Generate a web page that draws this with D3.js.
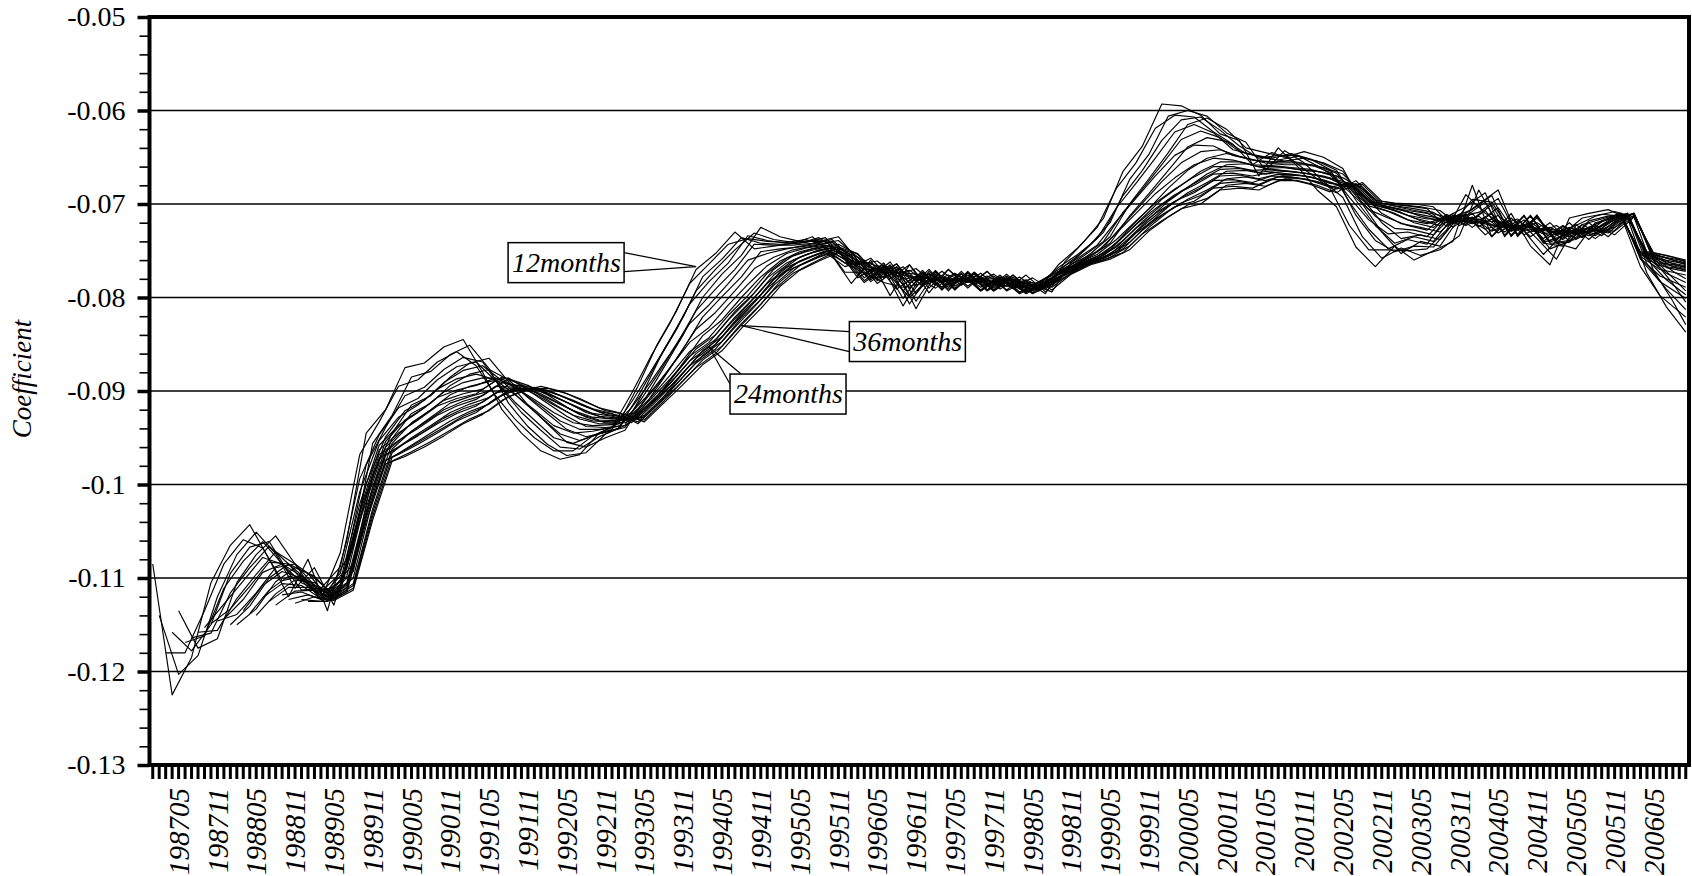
<!DOCTYPE html>
<html>
<head>
<meta charset="utf-8">
<title>Coefficient</title>
<script src="https://cdn.jsdelivr.net/npm/d3@7/dist/d3.min.js"></script>
<style>
  html, body { margin: 0; padding: 0; background: #fff; }
  svg { display: block; }
  text { font-family: "Liberation Serif", "Times New Roman", serif; fill: #000; }
</style>
</head>
<body>
<div id="chart"></div>
<script>
// x axis labels (every sixth month)
const monthLabels = ['198705','198711','198805','198811','198905','198911','199005','199011','199105','199111',
  '199205','199211','199305','199311','199405','199411','199505','199511','199605','199611','199705','199711',
  '199805','199811','199905','199911','200005','200011','200105','200111','200205','200211','200305','200311',
  '200405','200411','200505','200511','200605'];

const yTicks = [-0.05, -0.06, -0.07, -0.08, -0.09, -0.1, -0.11, -0.12, -0.13];
const yTickLabels = ['-0.05', '-0.06', '-0.07', '-0.08', '-0.09', '-0.1', '-0.11', '-0.12', '-0.13'];

// rolling-window coefficients, one reading every third month from the window's first month
const w12 = [-.1085,-.1225,-.1185,-.1105,-.1065,-.1043,-.108,-.112,-.108,-.1135,-.106,-.0945,-.092,-.0875,-.087,-.0853,-.0845,-.088,-.092,-.0945,-.0964,-.0973,-.0968,-.0945,-.0935,-.0895,-.085,-.0814,-.077,-.0753,-.073,-.0748,-.0745,-.0742,-.0735,-.0755,-.0785,-.076,-.0798,-.0765,-.0795,-.077,-.079,-.0772,-.0793,-.0782,-.0796,-.0762,-.074,-.0715,-.0665,-.0638,-.0593,-.0595,-.0605,-.0625,-.0632,-.067,-.064,-.066,-.0685,-.0703,-.0746,-.0767,-.0745,-.076,-.075,-.074,-.068,-.0735,-.071,-.0745,-.0765,-.0715,-.071,-.0706,-.0715,-.0774,-.081,-.0837];
const w13 = [-.114,-.1203,-.1183,-.112,-.1075,-.1051,-.1074,-.1111,-.1089,-.1129,-.1066,-.0956,-.0926,-.0885,-.0879,-.0861,-.0851,-.0876,-.0913,-.0938,-.0957,-.0969,-.0966,-.0946,-.0937,-.0899,-.0856,-.0821,-.0778,-.0759,-.0736,-.0742,-.0743,-.0742,-.0736,-.075,-.0779,-.0766,-.0791,-.0777,-.079,-.0775,-.0786,-.0777,-.079,-.0786,-.0794,-.0763,-.0743,-.072,-.0674,-.0647,-.0606,-.06,-.0606,-.0624,-.0634,-.0664,-.0643,-.0656,-.0676,-.0693,-.0735,-.0758,-.0747,-.0755,-.0749,-.0734,-.0685,-.0723,-.0716,-.0737,-.0759,-.0723,-.0713,-.0708,-.0714,-.0771,-.0804,-.0829];
const w14 = [-.118,-.118,-.1135,-.1085,-.1059,-.1068,-.1103,-.1098,-.1123,-.1073,-.0968,-.0933,-.0895,-.0888,-.0869,-.0858,-.0873,-.0905,-.093,-.095,-.0964,-.0964,-.0948,-.0939,-.0903,-.0863,-.0827,-.0785,-.0764,-.0743,-.0737,-.074,-.0741,-.0738,-.0745,-.0773,-.0773,-.0784,-.0789,-.0785,-.0779,-.0783,-.0783,-.0787,-.0789,-.0791,-.0765,-.0747,-.0725,-.0683,-.0656,-.0619,-.0605,-.0607,-.0623,-.0636,-.0658,-.0645,-.0652,-.0668,-.0683,-.0723,-.0749,-.0749,-.075,-.0748,-.0728,-.069,-.071,-.0723,-.0729,-.0754,-.0732,-.0715,-.0711,-.0713,-.0767,-.0798,-.0821];
const w15 = [-.1158,-.1178,-.115,-.1095,-.1067,-.1061,-.1094,-.1106,-.1116,-.1079,-.0979,-.0939,-.0905,-.0896,-.0877,-.0864,-.0869,-.0898,-.0923,-.0942,-.096,-.0962,-.0949,-.094,-.0906,-.0869,-.0834,-.0793,-.077,-.0749,-.0731,-.0738,-.0741,-.0739,-.074,-.0766,-.0779,-.0777,-.08,-.078,-.0784,-.0779,-.0788,-.0783,-.0793,-.0789,-.0766,-.075,-.073,-.0691,-.0664,-.0632,-.061,-.0607,-.0621,-.0638,-.0651,-.0648,-.0648,-.0659,-.0672,-.0712,-.0739,-.0751,-.0745,-.0746,-.0721,-.0695,-.0698,-.0729,-.072,-.0748,-.074,-.0718,-.0713,-.0711,-.0764,-.0791,-.0813];
const w16 = [-.1135,-.1175,-.1165,-.1105,-.1075,-.1055,-.1085,-.1115,-.111,-.1085,-.099,-.0945,-.0915,-.0905,-.0885,-.087,-.0865,-.089,-.0915,-.0935,-.0955,-.096,-.095,-.0942,-.091,-.0875,-.084,-.08,-.0775,-.0755,-.0725,-.0735,-.074,-.074,-.0735,-.076,-.0785,-.077,-.0812,-.0775,-.0788,-.0775,-.0793,-.078,-.0796,-.0786,-.0767,-.0753,-.0735,-.07,-.0673,-.0645,-.0615,-.0608,-.062,-.064,-.0645,-.065,-.0644,-.065,-.0662,-.07,-.073,-.0753,-.074,-.0745,-.0715,-.07,-.0685,-.0735,-.0712,-.0742,-.0748,-.072,-.0715,-.071,-.076,-.0785,-.0805];
const w17 = [-.1169,-.1162,-.1111,-.1082,-.1061,-.1085,-.1113,-.1111,-.1088,-.0994,-.0947,-.0918,-.0908,-.0888,-.0874,-.0869,-.0889,-.0912,-.0931,-.095,-.0956,-.0948,-.0941,-.0912,-.0879,-.0845,-.0807,-.0783,-.0763,-.0734,-.0739,-.0742,-.0741,-.0736,-.0759,-.0784,-.0769,-.0809,-.0774,-.0789,-.0775,-.0793,-.0779,-.0796,-.0786,-.0768,-.0754,-.0737,-.0704,-.0678,-.0651,-.0623,-.0615,-.0624,-.0642,-.0647,-.0651,-.0646,-.0652,-.0663,-.0698,-.0727,-.0748,-.0738,-.0743,-.0714,-.0703,-.0688,-.0735,-.0712,-.0742,-.0745,-.0722,-.0716,-.071,-.0759,-.0783,-.0801];
const w18 = [-.1164,-.1159,-.1116,-.1089,-.1066,-.1085,-.111,-.1113,-.109,-.0999,-.0949,-.0921,-.091,-.0891,-.0878,-.0873,-.0889,-.091,-.0928,-.0946,-.0953,-.0946,-.094,-.0914,-.0883,-.085,-.0814,-.0791,-.077,-.0743,-.0744,-.0744,-.0742,-.0738,-.0758,-.0783,-.0768,-.0807,-.0774,-.0789,-.0774,-.0793,-.0779,-.0796,-.0785,-.0769,-.0755,-.074,-.0709,-.0684,-.0658,-.0631,-.0622,-.0629,-.0644,-.0649,-.0653,-.0649,-.0654,-.0664,-.0696,-.0723,-.0742,-.0735,-.074,-.0714,-.0706,-.0691,-.0735,-.0712,-.0742,-.0741,-.0725,-.0716,-.071,-.0759,-.0781,-.0797];
const w19 = [-.1158,-.1156,-.1122,-.1096,-.1072,-.1085,-.1108,-.1114,-.1093,-.1003,-.0951,-.0924,-.0913,-.0894,-.0882,-.0877,-.0888,-.0907,-.0924,-.0941,-.0949,-.0944,-.0939,-.0916,-.0886,-.0855,-.0821,-.0799,-.0778,-.0751,-.0748,-.0746,-.0743,-.0739,-.0757,-.0782,-.0767,-.0804,-.0773,-.079,-.0774,-.0793,-.0778,-.0795,-.0785,-.0769,-.0756,-.0742,-.0713,-.0689,-.0664,-.0639,-.0629,-.0633,-.0646,-.0651,-.0654,-.0651,-.0656,-.0665,-.0694,-.072,-.0737,-.0733,-.0738,-.0713,-.0709,-.0694,-.0734,-.0712,-.0741,-.0738,-.0727,-.0717,-.071,-.0758,-.0779,-.0793];
const w20 = [-.1153,-.1128,-.1103,-.1078,-.1085,-.1105,-.1115,-.1095,-.1008,-.0953,-.0928,-.0915,-.0898,-.0887,-.0882,-.0888,-.0904,-.092,-.0937,-.0945,-.0943,-.0939,-.0918,-.089,-.086,-.0828,-.0808,-.0785,-.076,-.0753,-.0748,-.0744,-.074,-.0756,-.0782,-.0766,-.0801,-.0773,-.0791,-.0774,-.0793,-.0778,-.0795,-.0784,-.077,-.0758,-.0744,-.0718,-.0694,-.067,-.0648,-.0637,-.0638,-.0648,-.0653,-.0655,-.0654,-.0658,-.0666,-.0693,-.0717,-.0732,-.073,-.0735,-.0713,-.0713,-.0698,-.0734,-.0713,-.0741,-.0734,-.0729,-.0718,-.071,-.0758,-.0777,-.0789];
const w21 = [-.1149,-.1133,-.1109,-.1083,-.1085,-.1103,-.1116,-.1098,-.1012,-.0954,-.0931,-.0918,-.0901,-.0891,-.0886,-.0887,-.0901,-.0916,-.0932,-.0941,-.0941,-.0938,-.0919,-.0894,-.0865,-.0834,-.0816,-.0793,-.0769,-.0757,-.0749,-.0745,-.0741,-.0755,-.0781,-.0765,-.0798,-.0772,-.0791,-.0773,-.0792,-.0777,-.0795,-.0784,-.0771,-.0759,-.0746,-.0722,-.0699,-.0676,-.0656,-.0644,-.0642,-.0649,-.0654,-.0656,-.0656,-.0659,-.0667,-.0691,-.0713,-.0726,-.0728,-.0733,-.0712,-.0716,-.0701,-.0734,-.0713,-.0741,-.0731,-.0731,-.0718,-.071,-.0757,-.0774,-.0784];
const w22 = [-.1146,-.1139,-.1116,-.1089,-.1085,-.11,-.1118,-.11,-.1016,-.0956,-.0934,-.092,-.0904,-.0895,-.089,-.0886,-.0899,-.0913,-.0927,-.0938,-.0939,-.0937,-.0921,-.0898,-.087,-.0841,-.0824,-.08,-.0778,-.0761,-.0751,-.0746,-.0743,-.0754,-.078,-.0764,-.0796,-.0771,-.0792,-.0773,-.0792,-.0776,-.0795,-.0783,-.0772,-.076,-.0749,-.0726,-.0705,-.0683,-.0664,-.0651,-.0646,-.0651,-.0656,-.0658,-.0658,-.0661,-.0668,-.0689,-.071,-.0721,-.0725,-.073,-.0711,-.0719,-.0704,-.0734,-.0713,-.0741,-.0727,-.0734,-.0719,-.071,-.0756,-.0772,-.078];
const w23 = [-.1144,-.1123,-.1094,-.1085,-.1098,-.1119,-.1103,-.1021,-.0958,-.0937,-.0923,-.0907,-.0899,-.0894,-.0886,-.0896,-.0909,-.0923,-.0934,-.0937,-.0936,-.0923,-.0901,-.0875,-.0848,-.0832,-.0808,-.0786,-.0766,-.0753,-.0747,-.0744,-.0753,-.0779,-.0763,-.0793,-.0771,-.0792,-.0772,-.0792,-.0776,-.0794,-.0783,-.0772,-.0761,-.0751,-.0731,-.071,-.0689,-.0672,-.0658,-.0651,-.0653,-.0658,-.0659,-.0661,-.0663,-.0669,-.0687,-.0706,-.0715,-.0723,-.0728,-.0711,-.0722,-.0707,-.0733,-.0713,-.074,-.0724,-.0736,-.0719,-.071,-.0756,-.077,-.0776];
const w24 = [-.115,-.113,-.11,-.1085,-.1095,-.112,-.1105,-.1025,-.096,-.094,-.0925,-.091,-.0903,-.0898,-.0885,-.0893,-.0905,-.0918,-.093,-.0935,-.0935,-.0925,-.0905,-.088,-.0855,-.084,-.0815,-.0795,-.077,-.0755,-.0748,-.0745,-.0752,-.0778,-.0762,-.079,-.077,-.0793,-.0772,-.0792,-.0775,-.0794,-.0782,-.0773,-.0762,-.0753,-.0735,-.0715,-.0695,-.068,-.0665,-.0655,-.0655,-.066,-.066,-.0663,-.0665,-.067,-.0685,-.0703,-.071,-.072,-.0725,-.071,-.0725,-.071,-.0733,-.0713,-.074,-.072,-.0738,-.072,-.071,-.0755,-.0768,-.0772];
const w25 = [-.115,-.1133,-.1104,-.1089,-.1098,-.112,-.1106,-.1026,-.0962,-.0943,-.0928,-.0913,-.0906,-.09,-.0887,-.0894,-.0904,-.0917,-.0928,-.0934,-.0934,-.0926,-.0906,-.0881,-.0857,-.0842,-.0817,-.0797,-.0772,-.0757,-.0749,-.0746,-.0753,-.0776,-.0764,-.0788,-.0772,-.0791,-.0773,-.079,-.0776,-.0793,-.0783,-.0773,-.0762,-.0754,-.0736,-.0716,-.0697,-.0682,-.0668,-.0658,-.0657,-.0662,-.0661,-.0664,-.0666,-.0672,-.0684,-.0702,-.0709,-.0718,-.0723,-.0711,-.0724,-.0712,-.0732,-.0715,-.0738,-.0722,-.0737,-.0721,-.071,-.0755,-.0767,-.0771];
const w26 = [-.1135,-.1108,-.1093,-.11,-.1121,-.1107,-.1028,-.0963,-.0945,-.0931,-.0916,-.0908,-.0903,-.0889,-.0894,-.0903,-.0915,-.0926,-.0932,-.0933,-.0927,-.0907,-.0883,-.0858,-.0843,-.0819,-.0798,-.0774,-.0758,-.0751,-.0746,-.0755,-.0775,-.0765,-.0786,-.0773,-.0789,-.0775,-.0789,-.0778,-.0791,-.0784,-.0773,-.0763,-.0754,-.0738,-.0718,-.0699,-.0684,-.0671,-.066,-.066,-.0664,-.0663,-.0665,-.0668,-.0673,-.0683,-.0702,-.0708,-.0717,-.0721,-.0713,-.0723,-.0714,-.073,-.0717,-.0737,-.0723,-.0735,-.0723,-.0711,-.0754,-.0766,-.077];
const w27 = [-.1138,-.1113,-.1098,-.1103,-.1121,-.1108,-.1029,-.0965,-.0948,-.0934,-.092,-.0911,-.0905,-.0891,-.0895,-.0903,-.0914,-.0925,-.0931,-.0932,-.0928,-.0908,-.0884,-.086,-.0845,-.0821,-.08,-.0776,-.076,-.0752,-.0747,-.0756,-.0773,-.0767,-.0784,-.0775,-.0787,-.0776,-.0787,-.0779,-.079,-.0785,-.0774,-.0763,-.0755,-.0739,-.0719,-.0701,-.0686,-.0674,-.0663,-.0662,-.0666,-.0664,-.0666,-.0669,-.0675,-.0683,-.0701,-.0707,-.0715,-.072,-.0714,-.0721,-.0716,-.0729,-.0719,-.0735,-.0725,-.0734,-.0724,-.0711,-.0754,-.0765,-.0769];
const w28 = [-.114,-.1117,-.1102,-.1105,-.1122,-.1108,-.103,-.0966,-.095,-.0937,-.0923,-.0914,-.0907,-.0893,-.0895,-.0902,-.0912,-.0923,-.0929,-.0931,-.0928,-.0908,-.0885,-.0862,-.0847,-.0822,-.0802,-.0777,-.0761,-.0753,-.0748,-.0757,-.0771,-.0768,-.0782,-.0777,-.0785,-.0777,-.0785,-.0781,-.0788,-.0786,-.0774,-.0763,-.0755,-.0741,-.0721,-.0703,-.0688,-.0677,-.0665,-.0664,-.0668,-.0665,-.0667,-.067,-.0676,-.0682,-.0701,-.0706,-.0713,-.0718,-.0715,-.072,-.0718,-.0727,-.072,-.0733,-.0727,-.0732,-.0725,-.0712,-.0754,-.0764,-.0768];
const w29 = [-.1121,-.1106,-.1108,-.1122,-.1109,-.1031,-.0968,-.0953,-.094,-.0926,-.0916,-.0909,-.0895,-.0896,-.0901,-.0911,-.0921,-.0928,-.093,-.0929,-.0909,-.0887,-.0863,-.0848,-.0824,-.0803,-.0779,-.0763,-.0754,-.0748,-.0759,-.077,-.077,-.078,-.0778,-.0783,-.0779,-.0784,-.0782,-.0787,-.0787,-.0774,-.0764,-.0756,-.0742,-.0722,-.0705,-.069,-.068,-.0668,-.0667,-.067,-.0666,-.0668,-.0671,-.0678,-.0681,-.07,-.0705,-.0712,-.0716,-.0716,-.0719,-.072,-.0726,-.0722,-.0732,-.0728,-.0731,-.0726,-.0712,-.0753,-.0763,-.0767];
const w30 = [-.1125,-.111,-.111,-.1123,-.111,-.1033,-.0969,-.0955,-.0943,-.0929,-.0919,-.0912,-.0898,-.0897,-.09,-.0909,-.0919,-.0927,-.0929,-.093,-.091,-.0888,-.0865,-.085,-.0826,-.0805,-.0781,-.0765,-.0756,-.0749,-.076,-.0768,-.0771,-.0778,-.078,-.0782,-.078,-.0782,-.0784,-.0785,-.0788,-.0774,-.0764,-.0757,-.0744,-.0724,-.0707,-.0693,-.0683,-.067,-.0669,-.0673,-.0668,-.0669,-.0673,-.0679,-.068,-.07,-.0705,-.071,-.0714,-.0718,-.0718,-.0723,-.0724,-.0724,-.073,-.073,-.0729,-.0728,-.0713,-.0753,-.0762,-.0766];
const w31 = [-.1129,-.1114,-.1113,-.1123,-.1111,-.1034,-.0971,-.0958,-.0945,-.0932,-.0922,-.0914,-.09,-.0897,-.0899,-.0908,-.0917,-.0925,-.0928,-.0931,-.0911,-.0889,-.0867,-.0852,-.0828,-.0807,-.0783,-.0766,-.0757,-.075,-.0761,-.0766,-.0773,-.0775,-.0782,-.078,-.0781,-.078,-.0785,-.0784,-.0789,-.0774,-.0764,-.0757,-.0745,-.0725,-.0708,-.0695,-.0685,-.0673,-.0671,-.0675,-.0669,-.067,-.0674,-.0681,-.0679,-.0699,-.0704,-.0708,-.0712,-.0719,-.0716,-.0725,-.0723,-.0726,-.0728,-.0732,-.0728,-.0729,-.0713,-.0753,-.076,-.0765];
const w32 = [-.1118,-.1115,-.1123,-.1112,-.1035,-.0972,-.096,-.0948,-.0935,-.0924,-.0916,-.0902,-.0898,-.0898,-.0906,-.0915,-.0924,-.0927,-.0932,-.0912,-.0891,-.0868,-.0853,-.083,-.0808,-.0785,-.0768,-.0758,-.075,-.0763,-.0765,-.0774,-.0773,-.0783,-.0778,-.0783,-.0779,-.0786,-.0782,-.079,-.0774,-.0765,-.0758,-.0746,-.0726,-.071,-.0697,-.0688,-.0675,-.0674,-.0677,-.067,-.0671,-.0675,-.0682,-.0678,-.0698,-.0703,-.0707,-.071,-.072,-.0715,-.0727,-.0721,-.0728,-.0727,-.0733,-.0726,-.073,-.0713,-.0752,-.0759,-.0764];
const w33 = [-.1123,-.1118,-.1124,-.1113,-.1036,-.0974,-.0963,-.0951,-.0939,-.0927,-.0918,-.0904,-.0898,-.0898,-.0905,-.0914,-.0922,-.0926,-.0933,-.0913,-.0892,-.087,-.0855,-.0832,-.081,-.0787,-.0769,-.0759,-.0751,-.0764,-.0763,-.0776,-.0771,-.0785,-.0776,-.0784,-.0777,-.0788,-.0781,-.0791,-.0775,-.0765,-.0758,-.0748,-.0728,-.0712,-.0699,-.0691,-.0678,-.0676,-.0679,-.0671,-.0672,-.0676,-.0684,-.0678,-.0698,-.0702,-.0705,-.0709,-.0721,-.0714,-.0729,-.072,-.073,-.0725,-.0735,-.0725,-.0731,-.0714,-.0752,-.0758,-.0763];
const w34 = [-.1127,-.112,-.1124,-.1113,-.1038,-.0975,-.0965,-.0954,-.0942,-.093,-.0921,-.0906,-.0899,-.0897,-.0903,-.0912,-.0921,-.0925,-.0933,-.0913,-.0893,-.0872,-.0857,-.0833,-.0812,-.0788,-.0771,-.0761,-.0752,-.0765,-.0761,-.0777,-.0769,-.0787,-.0774,-.0785,-.0775,-.0789,-.0779,-.0792,-.0775,-.0765,-.0759,-.0749,-.0729,-.0714,-.0701,-.0694,-.068,-.0678,-.0681,-.0673,-.0673,-.0678,-.0685,-.0677,-.0697,-.0701,-.0703,-.0707,-.0723,-.0713,-.0731,-.0718,-.0731,-.0723,-.0737,-.0723,-.0733,-.0714,-.0752,-.0757,-.0762];
const w35 = [-.1123,-.1125,-.1114,-.1039,-.0977,-.0968,-.0957,-.0945,-.0932,-.0923,-.0908,-.0899,-.0896,-.0902,-.091,-.0919,-.0924,-.0934,-.0914,-.0895,-.0873,-.0858,-.0835,-.0813,-.079,-.0772,-.0762,-.0752,-.0767,-.076,-.0779,-.0767,-.0788,-.0772,-.0787,-.0774,-.0791,-.0778,-.0793,-.0775,-.0766,-.0759,-.0751,-.0731,-.0716,-.0703,-.0697,-.0683,-.0681,-.0683,-.0674,-.0674,-.0679,-.0687,-.0676,-.0697,-.07,-.0702,-.0705,-.0724,-.0711,-.0733,-.0717,-.0733,-.0722,-.0738,-.0722,-.0734,-.0715,-.0751,-.0756,-.0761];
const w36 = [-.1125,-.1125,-.1115,-.104,-.0978,-.097,-.096,-.0948,-.0935,-.0925,-.091,-.09,-.0895,-.09,-.0908,-.0918,-.0923,-.0935,-.0915,-.0896,-.0875,-.086,-.0837,-.0815,-.0792,-.0774,-.0763,-.0753,-.0768,-.0758,-.078,-.0765,-.079,-.077,-.0788,-.0772,-.0792,-.0776,-.0794,-.0775,-.0766,-.076,-.0752,-.0732,-.0718,-.0705,-.07,-.0685,-.0683,-.0685,-.0675,-.0675,-.068,-.0688,-.0675,-.0696,-.0699,-.07,-.0703,-.0725,-.071,-.0735,-.0715,-.0735,-.072,-.074,-.072,-.0735,-.0715,-.0751,-.0755,-.076];

// window length in months, first month of the estimate, readings
const windows = [
  [12, '198701', w12], [13, '198702', w13], [14, '198703', w14], [15, '198704', w15], [16, '198705', w16],
  [17, '198706', w17], [18, '198707', w18], [19, '198708', w19], [20, '198709', w20], [21, '198710', w21],
  [22, '198711', w22], [23, '198712', w23], [24, '198801', w24], [25, '198802', w25], [26, '198803', w26],
  [27, '198804', w27], [28, '198805', w28], [29, '198806', w29], [30, '198807', w30], [31, '198808', w31],
  [32, '198809', w32], [33, '198810', w33], [34, '198811', w34], [35, '198812', w35], [36, '198901', w36]
];

// callout labels: which month / coefficient they point at
const callouts = [
  { text: '12months', month: '199401', value: -0.0767 },
  { text: '36months', month: '199408', value: -0.0830 },
  { text: '24months', month: '199403', value: -0.0853 }
];

const width = 1692, height = 876;
const plotLeft = 149.5, plotRight = 1689, plotTop = 17, plotBottom = 765;
const fontFamily = '"Liberation Serif", "Times New Roman", serif';

const months = d3.timeMonths(new Date(1987, 0, 1), new Date(2006, 10, 1)).map(d3.timeFormat('%Y%m'));

const x = d3.scaleBand().domain(months).range([plotLeft, plotRight]);
const y = d3.scaleLinear().domain([-0.13, -0.05]).range([plotBottom, plotTop]);
const cx = m => x(m) + x.bandwidth() / 2;

const svg = d3.select('#chart').append('svg')
  .attr('width', width)
  .attr('height', height);

svg.append('rect').attr('width', width).attr('height', height).attr('fill', '#fff');

// horizontal grid
svg.append('g')
  .selectAll('line')
  .data(yTicks.filter(d => d < -0.055 && d > -0.125))
  .enter().append('line')
  .attr('x1', plotLeft).attr('x2', plotRight)
  .attr('y1', d => y(d)).attr('y2', d => y(d))
  .attr('stroke', '#000')
  .attr('stroke-width', 1.3);

// one line per window length
const line = d3.line().x(d => cx(d.m)).y(d => y(d.v));
const lastMonth = months[months.length - 1];

svg.append('g')
  .selectAll('path')
  .data(windows)
  .enter().append('path')
  .attr('fill', 'none')
  .attr('stroke', '#000')
  .attr('stroke-width', 1.15)
  .attr('stroke-linejoin', 'round')
  .attr('d', ([w, start, vals]) => {
    const i0 = months.indexOf(start);
    const pts = vals.map((v, k) => ({ m: k === vals.length - 1 ? lastMonth : months[i0 + 3 * k], v }));
    return line(pts);
  });

// y axis: major and minor ticks
const minor = d3.range(0, 41).filter(i => i % 5 !== 0).map(i => -0.13 + i * 0.002);

svg.append('g')
  .attr('transform', `translate(${plotLeft},0)`)
  .call(d3.axisLeft(y).tickValues(minor).tickSize(10).tickFormat(''))
  .call(g => g.select('.domain').remove())
  .call(g => g.selectAll('line').attr('stroke-width', 1.6));

svg.append('g')
  .attr('transform', `translate(${plotLeft},0)`)
  .call(d3.axisLeft(y).tickValues(yTicks).tickFormat((d, i) => yTickLabels[i]).tickSize(12).tickPadding(12))
  .attr('font-family', fontFamily)
  .attr('font-size', 28)
  .call(g => g.select('.domain').remove())
  .call(g => g.selectAll('line').attr('stroke-width', 3.5));

// x axis: a tick every month, a label every sixth month
const labelSet = new Set(monthLabels);
svg.append('g')
  .attr('transform', `translate(0,${plotBottom})`)
  .call(d3.axisBottom(x).tickSize(14).tickFormat(d => labelSet.has(d) ? d : ''))
  .attr('font-family', fontFamily)
  .attr('font-size', 29)
  .call(g => g.select('.domain').remove())
  .call(g => g.selectAll('line').attr('stroke-width', 3))
  .call(g => g.selectAll('text')
    .attr('transform', 'rotate(-90)')
    .attr('text-anchor', 'end')
    .attr('font-style', 'italic')
    .attr('x', -23)
    .attr('y', 0)
    .attr('dy', '0.35em'));

// frame
svg.append('rect')
  .attr('x', plotLeft).attr('y', plotTop)
  .attr('width', plotRight - plotLeft).attr('height', plotBottom - plotTop)
  .attr('fill', 'none')
  .attr('stroke', '#000')
  .attr('stroke-width', 4);

// y title
svg.append('text')
  .attr('transform', `translate(31,${(plotTop + plotBottom) / 2 - 12}) rotate(-90)`)
  .attr('text-anchor', 'middle')
  .attr('font-style', 'italic')
  .attr('font-size', 27)
  .text('Coefficient');

// callout boxes with two leader lines each
const boxW = 116, boxH = 40;
const layout = {
  '12months': { dx: -188, dy: -24, ends: [[boxW, 10], [boxW, 29]] },
  '36months': { dx: 108, dy: -4, ends: [[0, 10], [0, 30]] },
  '24months': { dx: 21, dy: 27, ends: [[11, 0], [0, 10]] }
};

callouts.forEach(c => {
  const tx = cx(c.month), ty = y(c.value);
  const L = layout[c.text];
  const bx = tx + L.dx, by = ty + L.dy;
  const g = svg.append('g');
  L.ends.forEach(([ex, ey]) => {
    g.append('line')
      .attr('x1', tx).attr('y1', ty)
      .attr('x2', bx + ex).attr('y2', by + ey)
      .attr('stroke', '#000')
      .attr('stroke-width', 1.2);
  });
  g.append('rect')
    .attr('x', bx).attr('y', by)
    .attr('width', boxW).attr('height', boxH)
    .attr('fill', '#fff')
    .attr('stroke', '#000')
    .attr('stroke-width', 1.5);
  g.append('text')
    .attr('x', bx + 4).attr('y', by + 29)
    .attr('font-style', 'italic')
    .attr('font-size', 28)
    .text(c.text);
});
</script>
</body>
</html>
